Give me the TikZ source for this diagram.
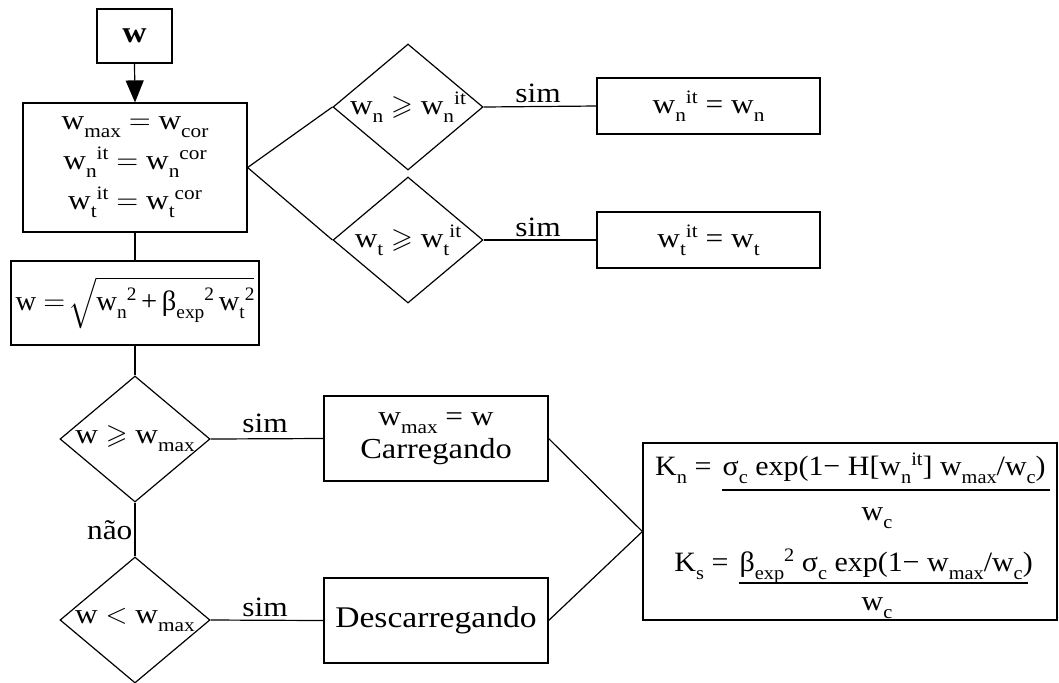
\documentclass[tikz,border=0pt]{standalone}
\usepackage{amssymb}
\usepackage{fontspec}
\setmainfont{Liberation Serif}[FakeStretch=1.12]
\newfontfamily\kfont{Liberation Serif}[FakeStretch=1.07]
\newfontfamily\sqfont{Liberation Serif}[FakeStretch=1.02]
\usetikzlibrary{shapes.geometric,arrows.meta,calc}
\newcommand\sbs[1]{\raisebox{-4pt}{\fontsize{9.5}{10}\selectfont #1}}
\newcommand\sps[1]{\raisebox{5pt}{\fontsize{9.5}{10}\selectfont #1}}
\begin{document}
\begin{tikzpicture}[x=0.5pt,y=-0.5pt,line width=0.6pt,
  font=\fontsize{14}{17.5}\selectfont,
  box/.style={draw,rectangle,inner sep=0pt,align=center},
  dia/.style={draw,diamond,inner sep=0pt,minimum width=75pt,minimum height=63pt},
  lbl/.style={inner sep=0pt},
  txt/.style={inner sep=0pt,font=\fontsize{14}{17.5}\kfont}]
\useasboundingbox (0,0) rectangle (1059,682);
% boxes
\node[box,minimum width=37.5pt,minimum height=27pt,font=\fontsize{15}{18}\selectfont] (w) at (134.5,36) {\bfseries w};
\node[box,minimum width=112pt,minimum height=64.5pt] (init) at (135,167.5)
  {w\sbs{max} $=$ w\sbs{cor}\\[2.5pt] w\sbs{n}\sps{it} $=$ w\sbs{n}\sps{cor}\\[2.5pt] w\sbs{t}\sps{it} $=$ w\sbs{t}\sps{cor}};
\node[box,minimum width=124pt,minimum height=42pt,font=\fontsize{14}{17.5}\sqfont] (sq) at (135,303)
  {w $=\!\sqrt{\hbox{w\sbs{n}\sps{2}\,+\,β\sbs{exp}\sps{2}\,w\sbs{t}\sps{2}}}$};
\node[dia,label=center:{w\sbs{n} $\geqslant$ w\sbs{n}\sps{it}}] (dn) at (408,107) {};
\node[dia,label=center:{w\sbs{t} $\geqslant$ w\sbs{t}\sps{it}}] (dt) at (408,240) {};
\node[box,minimum width=111.5pt,minimum height=28pt] (rn) at (708.5,106) {w\sbs{n}\sps{it} = w\sbs{n}};
\node[box,minimum width=111.5pt,minimum height=28pt] (rt) at (708.5,240) {w\sbs{t}\sps{it} = w\sbs{t}};
\node[dia,label=center:{w $\geqslant$ w\sbs{max}}] (d3) at (135,439) {};
\node[dia,label=center:{w $<$ w\sbs{max}}] (d4) at (135,620) {};
\node[box,minimum width=112pt,minimum height=42.5pt] (car) at (436,438.5)
  {w\sbs{max} = w\\[-1pt]{\fontsize{14.5}{17}\selectfont Carregando}};
\node[box,minimum width=112pt,minimum height=42.5pt,font=\fontsize{15}{18}\selectfont] (des) at (436,620.5) {Descarregando};
\node[box,minimum width=207pt,minimum height=88.5pt] (K) at (850,531.5) {};
% K formulas
\node[txt,anchor=base east] (kn) at (712,475) {K\sbs{n} =};
\node[txt,anchor=base west] (knum) at (722,475) {σ\sbs{c} exp(1− H[w\sbs{n}\sps{it}] w\sbs{max}/w\sbs{c})};
\draw (722,490) -- (1050,490);
\node[txt,anchor=base] (kden) at (877,520) {w\sbs{c}};
\node[txt,anchor=base east] (ks) at (729,571) {K\sbs{s} =};
\node[txt,anchor=base west] (ksnum) at (739,571) {β\sbs{exp}\sps{2} σ\sbs{c} exp(1− w\sbs{max}/w\sbs{c})};
\draw (739,583) -- (1028,583);
\node[txt,anchor=base] (ksden) at (877,610) {w\sbs{c}};
% connectors
\draw[-{Triangle[length=11pt,width=9pt]}] (w.south) -- (init.north);
\draw (init.east) -- (dn.west);
\draw (init.east) -- (dt.west);
\draw (dn.east) -- (rn.west);
\draw (dt.east) -- (rt.west);
\draw (init.south) -- (sq.north);
\draw (sq.south) -- (d3.north);
\draw (d3.east) -- (car.west);
\draw (d3.south) -- (d4.north);
\draw (d4.east) -- (des.west);
\draw (car.east) -- (K.west);
\draw (des.east) -- (K.west);
% labels
\node[lbl] (s1) at (538,93) {sim};
\node[lbl] (s2) at (538,227) {sim};
\node[lbl] (s3) at (265,423) {sim};
\node[lbl] (s4) at (265,607) {sim};
\node[lbl,anchor=east] (nao) at (133,530) {não};
\end{tikzpicture}
\end{document}
